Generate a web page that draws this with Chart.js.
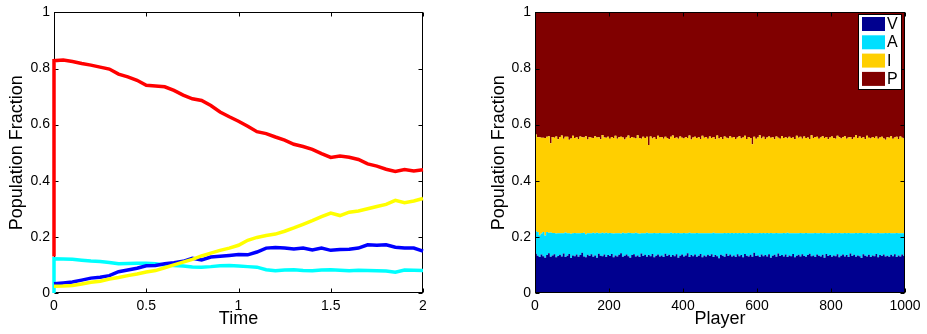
<!DOCTYPE html>
<html><head><meta charset="utf-8">
<script src="https://cdn.jsdelivr.net/npm/chart.js@4.4.1/dist/chart.umd.min.js"></script>
<style>
html,body{margin:0;padding:0;background:#fff;width:927px;height:334px;overflow:hidden}
#c1{position:absolute;left:0;top:0}
#c2{position:absolute;left:463px;top:0}
</style></head><body>
<canvas id="c1" width="463" height="334"></canvas>
<canvas id="c2" width="464" height="334"></canvas>
<script>
// ---- Left chart: population fractions over time ----
const times = [0,0,0.05,0.10,0.15,0.20,0.25,0.30,0.35,0.40,0.45,0.50,0.55,0.60,0.65,0.70,0.75,0.80,0.85,0.90,0.95,1.00,1.05,1.10,1.15,1.20,1.25,1.30,1.35,1.40,1.45,1.50,1.55,1.60,1.65,1.70,1.75,1.80,1.85,1.90,1.95,2.00];
const redP = [0.13,0.828,0.830,0.825,0.818,0.812,0.805,0.798,0.780,0.770,0.758,0.740,0.738,0.735,0.722,0.705,0.692,0.686,0.668,0.645,0.628,0.612,0.594,0.575,0.568,0.556,0.545,0.530,0.522,0.512,0.497,0.483,0.488,0.484,0.476,0.460,0.452,0.441,0.433,0.440,0.435,0.439];
const yellowI = [0.024,0.024,0.025,0.027,0.032,0.038,0.042,0.050,0.055,0.062,0.068,0.075,0.080,0.090,0.100,0.110,0.120,0.132,0.142,0.152,0.160,0.170,0.188,0.198,0.205,0.210,0.220,0.232,0.245,0.258,0.272,0.285,0.276,0.288,0.292,0.300,0.308,0.316,0.330,0.322,0.328,0.337];
const blueV = [0.033,0.033,0.036,0.039,0.046,0.053,0.056,0.062,0.076,0.082,0.088,0.097,0.098,0.104,0.108,0.113,0.124,0.118,0.128,0.131,0.134,0.137,0.136,0.146,0.160,0.162,0.160,0.157,0.160,0.153,0.160,0.152,0.155,0.156,0.160,0.172,0.170,0.172,0.163,0.160,0.160,0.149];
const cyanA = [0.0,0.122,0.121,0.120,0.117,0.114,0.112,0.109,0.104,0.105,0.106,0.106,0.104,0.100,0.098,0.096,0.093,0.092,0.094,0.097,0.098,0.096,0.094,0.092,0.083,0.079,0.082,0.083,0.080,0.079,0.082,0.083,0.081,0.079,0.081,0.080,0.079,0.078,0.074,0.082,0.081,0.080];

// ---- Right chart: per-player fractions (players 0..1000, every 5th) ----
const players = Array.from({length:201}, (_, i) => i*5);
const fracV = [0.140,0.133,0.128,0.137,0.131,0.126,0.135,0.142,0.129,0.134,
0.138,0.127,0.132,0.136,0.130,0.141,0.128,0.133,0.139,0.125,
0.134,0.131,0.137,0.129,0.135,0.143,0.130,0.127,0.136,0.132,
0.138,0.129,0.134,0.126,0.140,0.133,0.131,0.137,0.128,0.135,
0.132,0.139,0.127,0.134,0.130,0.136,0.142,0.129,0.133,0.137,
0.131,0.126,0.135,0.138,0.130,0.134,0.128,0.141,0.132,0.136,
0.129,0.135,0.131,0.139,0.127,0.133,0.137,0.130,0.134,0.128,
0.140,0.132,0.136,0.129,0.135,0.131,0.138,0.126,0.133,0.137,
0.130,0.134,0.142,0.128,0.135,0.131,0.137,0.129,0.133,0.139,
0.127,0.134,0.130,0.136,0.132,0.138,0.128,0.135,0.131,0.124,
0.136,0.133,0.129,0.140,0.132,0.137,0.130,0.134,0.128,0.138,
0.131,0.135,0.127,0.139,0.133,0.130,0.136,0.129,0.143,0.132,
0.134,0.128,0.137,0.131,0.135,0.130,0.138,0.126,0.133,0.136,
0.129,0.141,0.132,0.135,0.130,0.137,0.128,0.134,0.131,0.139,
0.127,0.133,0.136,0.130,0.138,0.132,0.129,0.135,0.140,0.131,
0.134,0.128,0.137,0.133,0.130,0.136,0.126,0.139,0.132,0.135,
0.129,0.134,0.131,0.138,0.127,0.133,0.137,0.130,0.135,0.128,
0.141,0.132,0.136,0.129,0.134,0.131,0.125,0.138,0.133,0.130,
0.136,0.128,0.134,0.131,0.139,0.127,0.135,0.132,0.137,0.130,
0.133,0.129,0.136,0.131,0.138,0.128,0.134,0.130,0.137,0.132,
0.135];
const fracA = [0.080,0.084,0.078,0.075,0.086,0.079,0.082,0.073,0.087,0.080,
0.076,0.085,0.081,0.077,0.083,0.072,0.088,0.080,0.074,0.086,
0.079,0.083,0.076,0.084,0.078,0.071,0.085,0.082,0.077,0.081,
0.075,0.086,0.079,0.089,0.073,0.080,0.084,0.076,0.087,0.078,
0.082,0.074,0.085,0.079,0.083,0.077,0.070,0.086,0.080,0.076,
0.084,0.088,0.078,0.075,0.085,0.079,0.083,0.072,0.081,0.077,
0.086,0.078,0.082,0.074,0.087,0.080,0.076,0.084,0.079,0.085,
0.073,0.081,0.077,0.086,0.078,0.083,0.075,0.088,0.080,0.076,
0.084,0.079,0.071,0.087,0.078,0.082,0.076,0.085,0.080,0.074,
0.086,0.079,0.083,0.077,0.081,0.075,0.087,0.078,0.082,0.089,
0.077,0.080,0.085,0.073,0.082,0.076,0.084,0.079,0.086,0.075,
0.083,0.078,0.087,0.074,0.080,0.084,0.077,0.085,0.070,0.081,
0.079,0.086,0.076,0.083,0.078,0.084,0.075,0.088,0.080,0.077,
0.085,0.072,0.081,0.078,0.084,0.076,0.087,0.079,0.082,0.074,
0.086,0.080,0.077,0.084,0.075,0.081,0.085,0.078,0.073,0.082,
0.079,0.086,0.076,0.080,0.084,0.077,0.088,0.074,0.081,0.078,
0.085,0.079,0.083,0.075,0.087,0.080,0.076,0.084,0.078,0.086,
0.072,0.081,0.077,0.085,0.079,0.083,0.089,0.075,0.080,0.084,
0.077,0.086,0.079,0.082,0.074,0.087,0.078,0.081,0.076,0.084,
0.080,0.085,0.077,0.082,0.075,0.086,0.079,0.083,0.076,0.081,
0.080];
const fracI = [0.345,0.338,0.349,0.341,0.336,0.347,0.340,0.344,0.318,0.342,
0.339,0.346,0.335,0.343,0.348,0.337,0.341,0.344,0.333,0.340,
0.347,0.338,0.342,0.336,0.345,0.341,0.339,0.350,0.334,0.343,
0.340,0.337,0.346,0.339,0.342,0.335,0.348,0.341,0.338,0.344,
0.336,0.343,0.340,0.347,0.337,0.342,0.345,0.339,0.334,0.341,
0.346,0.338,0.343,0.340,0.336,0.349,0.341,0.337,0.344,0.339,
0.342,0.314,0.345,0.338,0.341,0.336,0.347,0.340,0.343,0.337,
0.344,0.339,0.335,0.342,0.348,0.338,0.341,0.336,0.345,0.340,
0.337,0.343,0.339,0.346,0.334,0.341,0.344,0.338,0.342,0.336,
0.347,0.340,0.343,0.337,0.345,0.339,0.341,0.335,0.348,0.338,
0.342,0.336,0.344,0.340,0.337,0.346,0.339,0.343,0.335,0.341,
0.345,0.338,0.340,0.347,0.336,0.342,0.339,0.316,0.344,0.337,
0.341,0.348,0.338,0.343,0.336,0.340,0.345,0.339,0.342,0.335,
0.344,0.340,0.337,0.346,0.338,0.342,0.336,0.344,0.339,0.341,
0.335,0.347,0.340,0.343,0.337,0.345,0.338,0.341,0.336,0.349,
0.339,0.342,0.344,0.337,0.340,0.346,0.338,0.343,0.335,0.341,
0.344,0.339,0.336,0.347,0.341,0.338,0.342,0.345,0.337,0.340,
0.343,0.336,0.341,0.348,0.339,0.344,0.338,0.342,0.335,0.346,
0.340,0.337,0.343,0.339,0.345,0.336,0.341,0.344,0.338,0.332,
0.342,0.339,0.346,0.337,0.341,0.343,0.336,0.345,0.340,0.338,
0.344];
const fracP = fracV.map((v,i)=>+(1 - v - fracA[i] - fracI[i]).toFixed(3));
const legendLabels = ['V','A','I','P'];

const FONT = "'Liberation Sans', Arial, Helvetica, sans-serif";
Chart.defaults.font.family = FONT;
Chart.defaults.color = '#000';

function drawBox(chart){
  const {ctx, chartArea:a, scales} = chart;
  ctx.save();
  ctx.strokeStyle='#000'; ctx.lineWidth=1;
  const L=Math.round(a.left)+0.5, R=Math.round(a.right)-0.5, T=Math.round(a.top)+0.5, B=Math.round(a.bottom)-0.5;
  ctx.beginPath();
  scales.x.ticks.forEach(t=>{
    const p=Math.round(scales.x.getPixelForValue(t.value))+0.5;
    ctx.moveTo(p,B); ctx.lineTo(p,B-4);
    ctx.moveTo(p,T); ctx.lineTo(p,T+4);
  });
  scales.y.ticks.forEach(t=>{
    const p=Math.round(scales.y.getPixelForValue(t.value))+0.5;
    ctx.moveTo(L,p); ctx.lineTo(L+4,p);
    ctx.moveTo(R,p); ctx.lineTo(R-4,p);
  });
  ctx.stroke();
  ctx.strokeRect(L,T,R-L,B-T);
  ctx.restore();
}
const boxBefore = { id:'boxBefore', beforeDatasetsDraw(chart){ drawBox(chart); } };
const boxAfter = { id:'boxAfter', afterDraw(chart){ drawBox(chart); } };

const legendPlugin = {
  id:'legendBox',
  afterDraw(chart){
    const ctx=chart.ctx;
    const x0=395, y0=14, w=43, h=75;
    ctx.save();
    ctx.fillStyle='#fff'; ctx.fillRect(x0,y0,w,h);
    ctx.strokeStyle='#000'; ctx.lineWidth=1; ctx.strokeRect(x0+0.5,y0+0.5,w,h);
    ctx.font="16px "+FONT; ctx.textBaseline='middle'; ctx.textAlign='left';
    chart.data.datasets.forEach((ds,i)=>{
      const yy=y0+3+i*18.3;
      ctx.fillStyle=ds.backgroundColor; ctx.fillRect(x0+4,yy,23,14);
      ctx.fillStyle='#000'; ctx.fillText(legendLabels[i], x0+29, yy+7.5);
    });
    ctx.restore();
  }
};

function pts(xs, ys){ return xs.map((x,i)=>({x:x,y:ys[i]})); }
const fmt = v => String(+Number(v).toFixed(2));

const tickFont = {size:14};
const titleFont = {size:18};
const noGrid = {display:false, drawTicks:false, tickLength:0};

new Chart(document.getElementById('c1'), {
  type:'line',
  data:{datasets:[
    {label:'P', data:pts(times,redP), borderColor:'#ff0000', borderWidth:3.5, pointRadius:0, tension:0, clip:4},
    {label:'I', data:pts(times,yellowI), borderColor:'#ffff00', borderWidth:3.5, pointRadius:0, tension:0, clip:4},
    {label:'V', data:pts(times,blueV), borderColor:'#0000ff', borderWidth:3.5, pointRadius:0, tension:0, clip:4},
    {label:'A', data:pts(times,cyanA), borderColor:'#00ffff', borderWidth:3.5, pointRadius:0, tension:0, clip:4}
  ]},
  options:{
    responsive:false, animation:false, devicePixelRatio:1,
    layout:{padding:{left:0,right:40,top:11,bottom:0}},
    plugins:{legend:{display:false}, tooltip:{enabled:false}},
    scales:{
      x:{type:'linear', min:0, max:2, grid:noGrid, border:{display:false},
         ticks:{stepSize:0.5, font:tickFont, padding:5, maxRotation:0, callback:fmt},
         title:{display:true, text:'Time', font:titleFont, padding:{top:0,bottom:4}},
         afterFit(s){ s.height=41; }},
      y:{min:0, max:1, grid:noGrid, border:{display:false},
         ticks:{stepSize:0.2, font:tickFont, padding:4, callback:fmt},
         title:{display:true, text:'Population Fraction', font:titleFont, padding:{top:6,bottom:0}},
         afterFit(s){ s.width=54; }}
    }
  },
  plugins:[boxBefore]
});

new Chart(document.getElementById('c2'), {
  type:'line',
  data:{datasets:[
    {label:'V', data:pts(players,fracV), backgroundColor:'#00008f', borderColor:'#00008f', borderWidth:0, fill:'origin', stepped:true, pointRadius:0},
    {label:'A', data:pts(players,fracA), backgroundColor:'#00dfff', borderColor:'#00dfff', borderWidth:0, fill:'-1', stepped:true, pointRadius:0},
    {label:'I', data:pts(players,fracI), backgroundColor:'#ffcf00', borderColor:'#ffcf00', borderWidth:0, fill:'-1', stepped:true, pointRadius:0},
    {label:'P', data:pts(players,fracP), backgroundColor:'#800000', borderColor:'#800000', borderWidth:0, fill:'-1', stepped:true, pointRadius:0}
  ]},
  options:{
    responsive:false, animation:false, devicePixelRatio:1,
    layout:{padding:{left:0,right:22,top:11,bottom:0}},
    plugins:{legend:{display:false}, tooltip:{enabled:false}, filler:{propagate:false}},
    scales:{
      x:{type:'linear', min:0, max:1000, grid:noGrid, border:{display:false},
         ticks:{stepSize:200, font:tickFont, padding:5, maxRotation:0, callback:v=>String(v)},
         title:{display:true, text:'Player', font:titleFont, padding:{top:0,bottom:4}},
         afterFit(s){ s.height=41; }},
      y:{min:0, max:1, stacked:true, grid:noGrid, border:{display:false},
         ticks:{stepSize:0.2, font:tickFont, padding:4, callback:fmt},
         title:{display:true, text:'Population Fraction', font:titleFont, padding:{top:25,bottom:0}},
         afterFit(s){ s.width=72; }}
    }
  },
  plugins:[boxAfter, legendPlugin]
});
</script>
</body></html>
